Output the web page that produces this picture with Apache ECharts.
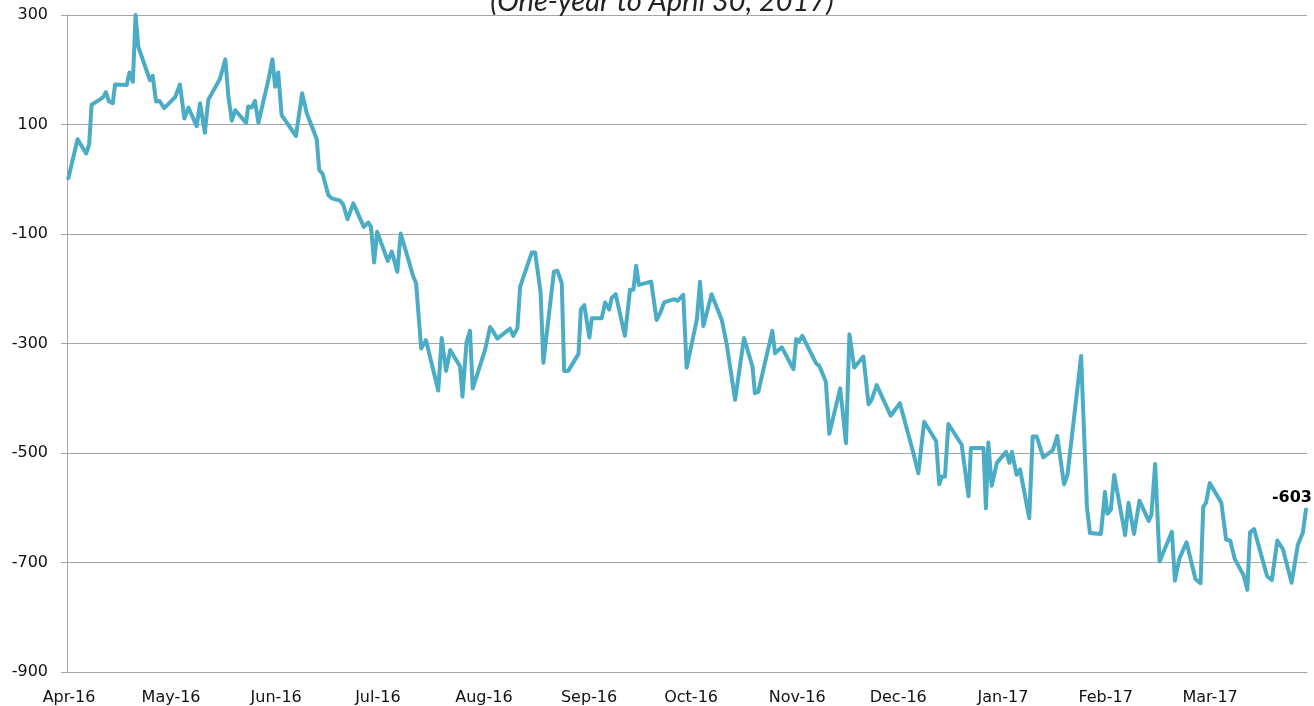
<!DOCTYPE html>
<html>
<head>
<meta charset="utf-8">
<script src="https://cdn.jsdelivr.net/npm/echarts@6/dist/echarts.min.js"></script>
<style>
html,body{margin:0;padding:0;background:#fff;}
#chart{width:1314px;height:706px;}
</style>
</head>
<body>
<div id="chart"></div>
<script>
// days after the first day shown on the axis (late April 2016)
const days = [0.4,3.1,5.6,6.5,7.2,9.7,10.6,11.4,12.3,13.4,14.1,17.5,18.3,19.3,20.1,20.9,24.3,25.1,26.1,27.1,28.5,31.7,33.1,34.4,35.6,38.0,39.0,40.4,41.4,44.8,46.4,47.3,48.3,49.3,52.5,53.1,54.1,55.1,56.1,59.0,60.2,61.0,61.9,62.9,67.1,68.9,70.3,73.2,73.9,74.9,76.6,77.6,80.0,81.0,82.2,83.9,87.0,88.3,89.1,90.0,90.9,94.0,95.2,96.8,97.8,101.5,102.3,103.8,105.2,108.8,109.8,111.1,112.3,115.2,115.9,117.1,118.1,118.9,122.5,124.0,124.9,126.1,129.8,130.8,132.0,132.8,136.2,137.2,138.8,139.6,142.7,143.7,145.0,145.7,146.9,149.9,150.6,151.6,153.1,153.8,156.7,157.7,158.9,159.6,160.8,163.5,165.0,166.0,166.8,167.6,171.2,172.8,173.8,175.0,177.9,178.9,180.6,181.6,184.6,185.5,186.5,188.9,191.9,193.3,195.8,198.4,200.9,201.6,202.6,206.7,207.5,209.5,212.9,213.7,214.5,215.5,219.5,220.5,222.4,223.4,226.6,228.3,229.3,230.7,233.4,234.9,235.8,237.3,241.4,244.1,248.0,249.5,251.2,254.7,255.6,256.4,257.3,258.3,262.2,264.2,264.9,268.6,269.3,270.0,271.0,272.5,275.2,276.2,276.9,278.3,279.3,282.0,283.0,284.2,286.1,288.9,290.2,292.2,293.2,297.2,298.9,299.8,303.0,304.2,304.9,305.9,306.9,310.1,311.1,312.7,314.3,317.0,317.8,318.9,320.2,323.8,324.7,326.0,328.1,330.7,332.2,333.0,333.8,334.9,338.3,339.7,340.9,342.2,344.8,345.9,346.7,347.9,351.7,353.1,354.7,356.3,358.9,360.7,362.2,363.1];

const values = [2,73,47,64,136,146,150,159,142,139,173,172,195,178,300,242,181,189,142,143,130,150,173,111,131,97,139,85,145,183,219,151,107,126,103,133,131,143,103,181,219,169,195,117,79,157,120,73,17,10,-29,-35,-39,-47,-73,-44,-87,-79,-87,-152,-96,-149,-132,-169,-99,-178,-190,-309,-294,-386,-290,-350,-312,-342,-397,-297,-277,-382,-312,-270,-278,-291,-273,-286,-272,-196,-134,-134,-207,-335,-169,-167,-190,-350,-350,-319,-238,-230,-289,-254,-254,-225,-238,-217,-210,-286,-202,-202,-158,-193,-187,-257,-245,-225,-219,-222,-211,-344,-256,-187,-268,-210,-257,-300,-403,-290,-342,-391,-388,-277,-318,-307,-347,-292,-297,-286,-336,-341,-370,-465,-382,-482,-283,-344,-324,-411,-403,-376,-432,-409,-499,-537,-443,-478,-557,-543,-543,-447,-485,-579,-491,-491,-601,-481,-560,-518,-498,-518,-498,-540,-530,-619,-470,-470,-508,-495,-469,-557,-540,-323,-598,-646,-648,-571,-611,-604,-540,-650,-591,-648,-587,-624,-613,-520,-698,-644,-733,-693,-663,-730,-738,-598,-591,-555,-591,-658,-660,-693,-723,-750,-645,-639,-725,-732,-660,-675,-737,-668,-645,-603];

// x-axis tick labels and their positions (days)
const tickDays = [0.6,30.5,61.3,91.1,122.2,153,182.9,214,243.6,274.3,304.4,335];
const tickLabels = ['Apr-16','May-16','Jun-16','Jul-16','Aug-16','Sep-16','Oct-16','Nov-16','Dec-16','Jan-17','Feb-17','Mar-17'];

const subtitle = '(One-year to April 30, 2017)';

const n = Math.min(days.length, values.length);
const seriesData = [];
for (let i = 0; i < n; i++) seriesData.push([days[i], values[i]]);
const last = seriesData[n - 1];

const chart = echarts.init(document.getElementById('chart'), null, {renderer: 'canvas'});
chart.setOption({
  animation: false,
  backgroundColor: '#fff',
  grid: {left: 67, right: 7, top: 15, bottom: 34, containLabel: false},
  graphic: [{
    type: 'text',
    x: 662,
    y: 16.5,
    z: 10,
    style: {
      text: subtitle,
      font: 'italic 29px Lato',
      fill: '#222',
      textAlign: 'center',
      textVerticalAlign: 'bottom'
    }
  }],
  xAxis: {
    type: 'value',
    min: 0,
    max: 363.4,
    axisLine: {show: true, onZero: false, lineStyle: {color: '#a6a6a6', width: 1}},
    axisTick: {show: false},
    splitLine: {show: false},
    axisLabel: {
      customValues: tickDays,
      formatter: function (v) {
        const i = tickDays.indexOf(v);
        return i >= 0 ? tickLabels[i] : '';
      },
      fontFamily: 'DejaVu Sans',
      fontSize: 16,
      color: '#111',
      margin: 18
    }
  },
  yAxis: {
    type: 'value',
    min: -900,
    max: 300,
    interval: 200,
    axisLine: {show: true, onZero: false, lineStyle: {color: '#a6a6a6', width: 1}},
    axisTick: {show: true, length: 6, lineStyle: {color: '#a6a6a6'}},
    splitLine: {show: true, lineStyle: {color: '#a6a6a6', width: 1}},
    axisLabel: {
      fontFamily: 'DejaVu Sans',
      fontSize: 16,
      color: '#111',
      margin: 19
    }
  },
  series: [{
    type: 'line',
    data: seriesData,
    showSymbol: false,
    symbol: 'none',
    lineStyle: {color: '#4bacc6', width: 4, join: 'round', cap: 'round'},
    itemStyle: {color: '#4bacc6'},
    markPoint: {
      symbol: 'circle',
      symbolSize: 0,
      silent: true,
      data: [{coord: last, value: last[1]}],
      label: {
        show: true,
        position: 'top',
        distance: 4,
        offset: [-14, 0],
        formatter: '{c}',
        fontFamily: 'DejaVu Sans',
        fontWeight: 'bold',
        fontSize: 16,
        color: '#000'
      }
    }
  }]
});
</script>
</body>
</html>
